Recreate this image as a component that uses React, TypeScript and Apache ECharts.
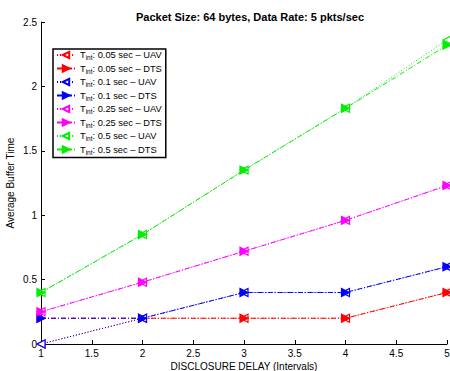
import React, { useEffect, useRef } from "react";
import * as echarts from "echarts";

const delays = [1, 2, 3, 4, 5];
const uav005 = [0, 0.2, 0.2, 0.2, 0.4];
const dts005 = [0.2, 0.2, 0.2, 0.2, 0.4];
const uav01 = [0, 0.2, 0.4, 0.4, 0.6];
const dts01 = [0.2, 0.2, 0.4, 0.4, 0.6];
const uav025 = [0.25, 0.48, 0.72, 0.96, 1.23];
const dts025 = [0.25, 0.48, 0.72, 0.96, 1.23];
const uav05 = [0.4, 0.85, 1.35, 1.83, 2.36];
const dts05 = [0.4, 0.85, 1.35, 1.83, 2.32];

const seriesDefs = [
  { name: "0.05 sec – UAV", color: "#ff0000", data: uav005, kind: "uav" },
  { name: "0.05 sec – DTS", color: "#ff0000", data: dts005, kind: "dts" },
  { name: "0.1 sec – UAV", color: "#0000ff", data: uav01, kind: "uav" },
  { name: "0.1 sec – DTS", color: "#0000ff", data: dts01, kind: "dts" },
  { name: "0.25 sec – UAV", color: "#ff00ff", data: uav025, kind: "uav" },
  { name: "0.25 sec – DTS", color: "#ff00ff", data: dts025, kind: "dts" },
  { name: "0.5 sec – UAV", color: "#00ee00", data: uav05, kind: "uav" },
  { name: "0.5 sec – DTS", color: "#00ee00", data: dts05, kind: "dts" },
];

const LEFT_TRI = "path://M0,5 L10,0 L10,10 Z";
const RIGHT_TRI = "path://M10,5 L0,0 L0,10 Z";

export default function App() {
  const ref = useRef<HTMLDivElement>(null);
  useEffect(() => {
    if (!ref.current) return;
    const chart = echarts.init(ref.current, undefined, { renderer: "svg" });
    const font = "Liberation Sans, Arial, Helvetica, sans-serif";
    chart.setOption({
      animation: false,
      backgroundColor: "#ffffff",
      title: {
        text: "Packet Size: 64 bytes, Data Rate: 5 pkts/sec",
        left: 245,
        textAlign: "center",
        top: 6,
        textStyle: { fontSize: 11, fontWeight: "bold", color: "#000", fontFamily: font },
      },
      grid: { left: 41, right: 3, top: 22, bottom: 27, containLabel: false, outerBoundsMode: "none" },
      xAxis: {
        type: "value",
        min: 1,
        max: 5,
        interval: 0.5,
        name: "DISCLOSURE DELAY (Intervals)",
        nameLocation: "middle",
        nameGap: 17,
        nameMoveOverlap: false,
        nameTextStyle: { fontSize: 10, color: "#000", fontFamily: font },
        axisLine: { lineStyle: { color: "#000", width: 1 } },
        axisTick: { inside: true, length: 4, lineStyle: { color: "#000" } },
        axisLabel: { fontSize: 10, color: "#000", fontFamily: font, margin: 4 },
        splitLine: { show: false },
      },
      yAxis: {
        type: "value",
        min: 0,
        max: 2.5,
        interval: 0.5,
        name: "Average Buffer Time",
        nameLocation: "middle",
        nameGap: 26,
        nameMoveOverlap: false,
        nameTextStyle: { fontSize: 10, color: "#000", fontFamily: font },
        axisLine: { show: true, lineStyle: { color: "#000", width: 1 } },
        axisTick: { show: true, inside: true, length: 4, lineStyle: { color: "#000" } },
        axisLabel: { fontSize: 10, color: "#000", fontFamily: font, margin: 4 },
        splitLine: { show: false },
      },
      legend: {
        orient: "vertical",
        left: 53,
        top: 49,
        padding: [0, 4, 2, 3],
        itemGap: 1.5,
        itemWidth: 18,
        itemHeight: 8,
        backgroundColor: "#fff",
        borderColor: "#000",
        borderWidth: 1.5,
        formatter: (name: string) => `{m|T}{sub|int}{m|: ${name}}`,
        textStyle: {
          fontFamily: font,
          color: "#000",
          padding: [0, 0, 0, 0],
          rich: {
            m: { fontSize: 9.3, fontFamily: font, color: "#000", lineHeight: 13.3 },
            sub: { fontSize: 6.5, fontFamily: font, color: "#000", padding: [5, 0, 0, 0], lineHeight: 13.3 },
          },
        },
        data: seriesDefs.map((s) => s.name),
      },
      series: seriesDefs.map((s) => ({
        name: s.name,
        type: "line",
        data: delays.map((d, i) => [d, s.data[i]]),
        symbol: s.kind === "uav" ? LEFT_TRI : RIGHT_TRI,
        symbolSize: [8, 8],
        showSymbol: true,
        itemStyle: {
          color: s.kind === "uav" ? "#fff" : s.color,
          borderColor: s.color,
          borderWidth: 1.2,
        },
        lineStyle: {
          color: s.color,
          width: 1,
          type: s.kind === "uav" ? [1, 2] : [5, 2, 1, 2],
        },
      })),
    });
    return () => chart.dispose();
  }, []);
  return <div ref={ref} style={{ width: 450, height: 371, position: "absolute", left: 0, top: 0 }} />;
}
